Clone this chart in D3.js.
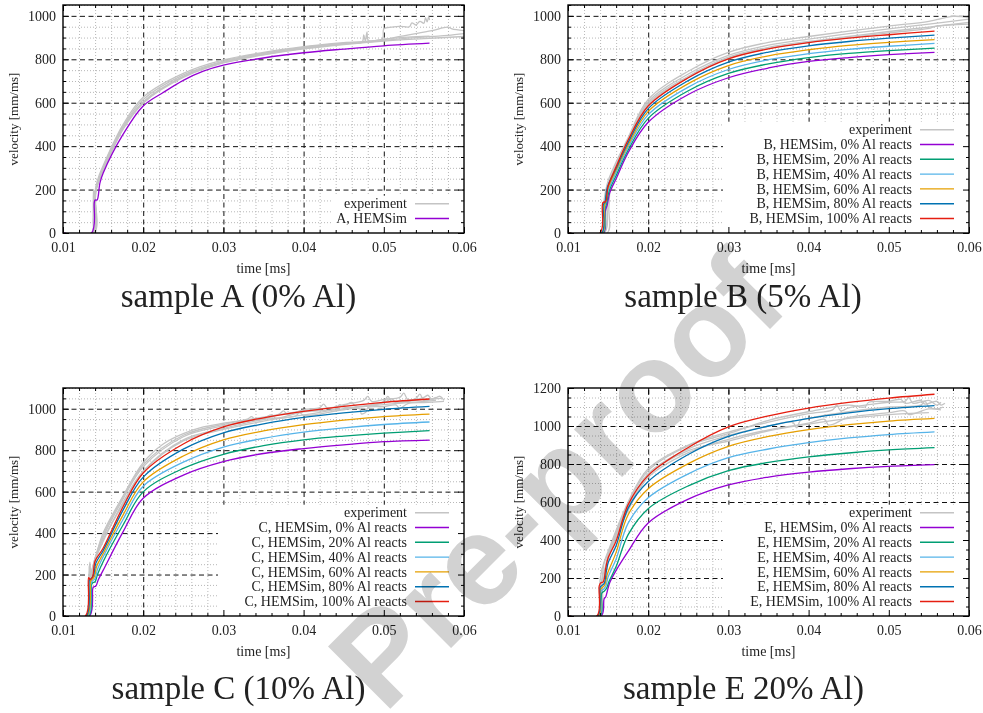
<!DOCTYPE html>
<html><head><meta charset="utf-8">
<script src="https://cdn.jsdelivr.net/npm/d3@7"></script>
<style>
body{margin:0;background:#fff}
svg{display:block}
text{font-family:"Liberation Serif","DejaVu Serif",serif;fill:#222}
</style>
</head><body>
<svg id="c" width="983" height="713"></svg>
<script>
// ---------------- data ----------------
const xTicks = [0.01,0.02,0.03,0.04,0.05,0.06];
const yTicksA = [0,200,400,600,800,1000];
const yTicksB = [0,200,400,600,800,1000];
const yTicksC = [0,200,400,600,800,1000];
const yTicksE = [0,200,400,600,800,1000,1200];
const titles = ["sample A (0% Al)","sample B (5% Al)","sample C (10% Al)","sample E 20% Al)"];
const reactPercents = [0,20,40,60,80,100];
const simColors = ["#9400d3","#009e73","#56b4e9","#e69f00","#0072b2","#e51e10"];
const expColor = "#c4c4c4";

// sample A
const simA = [[0.01,0],[0.01355,0],[0.0139,140],[0.0140,152],[0.01425,152],[0.0146,230],[0.015,275],[0.0175,455],[0.02,585],[0.0225,647],[0.025,703],[0.0275,745],[0.03,773],[0.035,806],[0.04,830],[0.045,847],[0.05,862],[0.0557,874]];
const expA1 = [[0.01,0],[0.0136,0],[0.01375,60],[0.0138,200],[0.0139,150],[0.0141,215],[0.0145,265],[0.015,310],[0.0175,500],[0.02,625],[0.025,735],[0.03,797],[0.035,832],[0.04,858],[0.045,877],[0.0498,893],[0.0500,940],[0.051,948],[0.052,952],[0.0532,950],[0.0535,968],[0.054,958],[0.0545,975],[0.055,966],[0.0552,992],[0.0554,972],[0.0556,998],[0.0557,980]];
const expA2 = [[0.01,0],[0.0137,0],[0.0139,170],[0.0142,210],[0.015,300],[0.0175,492],[0.02,615],[0.025,728],[0.03,792],[0.035,828],[0.04,855],[0.045,874],[0.05,890],[0.052,905],[0.054,918],[0.056,932],[0.058,948],[0.0585,940],[0.06,932]];
const expA3 = [[0.01,0],[0.0138,0],[0.01395,190],[0.0141,200],[0.015,290],[0.0175,485],[0.02,605],[0.025,720],[0.03,786],[0.035,822],[0.04,850],[0.045,870],[0.05,887],[0.053,897],[0.056,905],[0.058,910],[0.06,918]];
const expA4 = [[0.01,0],[0.0138,0],[0.0140,180],[0.0143,230],[0.015,295],[0.0175,482],[0.02,600],[0.025,722],[0.03,788],[0.035,826],[0.04,853],[0.045,873],[0.0473,880],[0.0475,912],[0.0477,884],[0.0479,925],[0.0481,886],[0.05,893],[0.053,902],[0.0557,907]];
const expA5 = [[0.01,0],[0.0139,0],[0.01405,170],[0.0144,235],[0.015,285],[0.0175,478],[0.02,598],[0.025,716],[0.03,783],[0.035,820],[0.04,848],[0.045,868],[0.05,884],[0.055,895],[0.06,905]];

// sample B
const simB0 = [[0.01,0],[0.0144,0],[0.01465,100],[0.0149,130],[0.0152,185],[0.016,250],[0.0175,370],[0.02,510],[0.025,638],[0.03,715],[0.035,760],[0.04,790],[0.045,808],[0.05,821],[0.0557,832]];
const simB20 = [[0.01,0],[0.01435,0],[0.0146,110],[0.0148,135],[0.0151,190],[0.016,265],[0.0175,382],[0.02,528],[0.025,655],[0.03,735],[0.035,779],[0.04,808],[0.045,827],[0.05,840],[0.0557,851]];
const simB40 = [[0.01,0],[0.0143,0],[0.01455,115],[0.0147,138],[0.0150,195],[0.016,278],[0.0175,394],[0.02,545],[0.025,672],[0.03,753],[0.035,798],[0.04,826],[0.045,846],[0.05,860],[0.0557,873]];
const simB60 = [[0.01,0],[0.01425,0],[0.0145,120],[0.01465,140],[0.0149,200],[0.016,290],[0.0175,405],[0.02,560],[0.025,688],[0.03,771],[0.035,816],[0.04,844],[0.045,864],[0.05,878],[0.0557,891]];
const simB80 = [[0.01,0],[0.0142,0],[0.0144,130],[0.0146,142],[0.0149,210],[0.016,298],[0.0175,417],[0.02,573],[0.025,702],[0.03,787],[0.035,833],[0.04,862],[0.045,882],[0.05,897],[0.0557,911]];
const simB100 = [[0.01,0],[0.0140,0],[0.01435,140],[0.0147,145],[0.0150,215],[0.016,305],[0.0175,428],[0.02,585],[0.025,715],[0.03,802],[0.035,848],[0.04,877],[0.045,897],[0.05,913],[0.0557,930]];
const expB1 = [[0.01,0],[0.0142,0],[0.0145,150],[0.015,240],[0.0175,440],[0.02,615],[0.025,745],[0.03,832],[0.035,878],[0.04,905],[0.045,930],[0.05,953],[0.055,975],[0.058,998],[0.06,992]];
const expB2 = [[0.01,0],[0.0143,0],[0.0147,150],[0.015,225],[0.0175,430],[0.02,605],[0.025,732],[0.03,818],[0.035,865],[0.04,893],[0.045,918],[0.05,940],[0.055,962],[0.06,985]];
const expB3 = [[0.01,0],[0.0145,0],[0.0149,140],[0.0152,230],[0.0175,420],[0.02,598],[0.025,722],[0.03,810],[0.035,855],[0.04,882],[0.045,905],[0.05,928],[0.055,948],[0.06,970]];
const expB4 = [[0.01,0],[0.0149,0],[0.0151,120],[0.0155,265],[0.0175,412],[0.02,592],[0.025,716],[0.03,805],[0.035,850],[0.04,878],[0.045,900],[0.05,922],[0.055,942],[0.0558,952],[0.06,962]];

// sample C
const simC0 = [[0.01,0],[0.0133,0],[0.0137,130],[0.0138,140],[0.0141,145],[0.0144,175],[0.015,220],[0.0175,407],[0.02,568],[0.025,680],[0.03,745],[0.035,784],[0.04,808],[0.045,826],[0.05,841],[0.0557,849]];
const simC20 = [[0.01,0],[0.0132,0],[0.01355,150],[0.0137,160],[0.0140,165],[0.0143,200],[0.015,262],[0.0175,440],[0.02,599],[0.025,712],[0.03,780],[0.035,822],[0.04,850],[0.045,868],[0.05,882],[0.0557,894]];
const simC40 = [[0.01,0],[0.0131,0],[0.0135,160],[0.0137,170],[0.0140,180],[0.0143,225],[0.015,285],[0.0175,467],[0.02,626],[0.025,742],[0.03,815],[0.035,857],[0.04,887],[0.045,908],[0.05,924],[0.0557,936]];
const simC60 = [[0.01,0],[0.0130,0],[0.01345,170],[0.0136,175],[0.0139,190],[0.0142,240],[0.015,300],[0.0175,488],[0.02,647],[0.025,772],[0.03,850],[0.035,893],[0.04,923],[0.045,945],[0.05,962],[0.0557,974]];
const simC80 = [[0.01,0],[0.0129,0],[0.0133,175],[0.0135,180],[0.0138,195],[0.0141,255],[0.015,315],[0.0175,512],[0.02,670],[0.025,805],[0.03,884],[0.035,927],[0.04,958],[0.045,980],[0.05,997],[0.0557,1011]];
const simC100 = [[0.01,0],[0.0128,0],[0.0132,185],[0.0134,175],[0.0137,190],[0.0140,265],[0.015,327],[0.0175,528],[0.02,690],[0.025,830],[0.03,912],[0.035,956],[0.04,987],[0.045,1011],[0.05,1031],[0.0557,1047]];
const expC1 = [[0.01,0],[0.0129,0],[0.0132,180],[0.01335,260],[0.0135,200],[0.0138,230],[0.0142,300],[0.015,400],[0.0175,580],[0.02,740],[0.0225,830],[0.025,880],[0.0275,912],[0.03,930],[0.033,950],[0.0335,962],[0.034,948],[0.037,975],[0.0375,990],[0.038,972],[0.04,995],[0.042,1005],[0.0425,1022],[0.043,1003],[0.045,1020],[0.0475,1040],[0.048,1060],[0.0485,1035],[0.05,1045],[0.052,1055],[0.0525,1075],[0.053,1045],[0.055,1055],[0.0555,1065],[0.056,1045],[0.057,1060],[0.0575,1040]];
const expC2 = [[0.01,0],[0.0130,0],[0.0134,190],[0.0140,270],[0.015,360],[0.0175,550],[0.02,700],[0.025,850],[0.03,905],[0.035,948],[0.039,965],[0.0395,982],[0.04,968],[0.045,995],[0.047,1000],[0.0472,975],[0.0478,985],[0.048,1005],[0.05,1010],[0.0515,1018],[0.052,1002],[0.053,1025],[0.055,1030],[0.0575,1035]];
const expC3 = [[0.01,0],[0.0131,0],[0.0135,200],[0.0141,290],[0.015,380],[0.0175,565],[0.02,720],[0.025,865],[0.03,918],[0.035,955],[0.036,970],[0.0365,955],[0.04,985],[0.044,1000],[0.0445,1020],[0.045,1008],[0.05,1030],[0.051,1048],[0.0515,1030],[0.054,1050],[0.0545,1070],[0.055,1040],[0.0565,1055]];
const expC4 = [[0.01,0],[0.0130,0],[0.0133,240],[0.0134,170],[0.0140,280],[0.015,390],[0.0175,575],[0.02,730],[0.025,872],[0.03,925],[0.035,960],[0.04,990],[0.045,1015],[0.046,1030],[0.0465,1012],[0.05,1035],[0.0505,1060],[0.051,1035],[0.055,1045],[0.0572,1050]];
const expC5 = [[0.01,0],[0.0132,0],[0.0136,210],[0.0142,300],[0.015,370],[0.0175,540],[0.02,695],[0.025,845],[0.03,900],[0.035,940],[0.04,970],[0.045,1000],[0.05,1020],[0.055,1035],[0.0565,1040]];

// sample E
const simE0 = [[0.01,0],[0.01415,0],[0.0145,90],[0.0147,100],[0.0149,130],[0.0152,175],[0.016,240],[0.0175,340],[0.02,490],[0.025,615],[0.03,690],[0.035,731],[0.04,757],[0.045,775],[0.05,788],[0.0557,797]];
const simE20 = [[0.01,0],[0.0140,0],[0.0142,120],[0.0145,130],[0.0148,145],[0.0151,180],[0.016,260],[0.0175,428],[0.02,565],[0.025,685],[0.03,765],[0.035,808],[0.04,837],[0.045,858],[0.05,874],[0.0557,886]];
const simE40 = [[0.01,0],[0.0139,0],[0.0141,130],[0.0144,140],[0.0147,155],[0.015,205],[0.016,300],[0.0175,489],[0.02,622],[0.025,748],[0.03,833],[0.035,879],[0.04,912],[0.045,937],[0.05,955],[0.0557,969]];
const simE60 = [[0.01,0],[0.0138,0],[0.01405,140],[0.0143,150],[0.0146,165],[0.0149,220],[0.016,335],[0.0175,533],[0.02,670],[0.025,802],[0.03,893],[0.035,945],[0.04,981],[0.045,1007],[0.05,1026],[0.0557,1040]];
const simE80 = [[0.01,0],[0.0137,0],[0.0140,150],[0.0142,160],[0.0145,170],[0.0148,240],[0.015,279],[0.016,370],[0.0175,568],[0.02,708],[0.025,850],[0.03,945],[0.035,1000],[0.04,1040],[0.045,1069],[0.05,1091],[0.0557,1107]];
const simE100 = [[0.01,0],[0.0136,0],[0.0139,160],[0.0141,175],[0.0144,180],[0.0147,250],[0.015,305],[0.016,395],[0.0175,586],[0.02,740],[0.025,887],[0.03,995],[0.035,1053],[0.04,1094],[0.045,1124],[0.05,1147],[0.0557,1167]];
const expE1 = [[0.01,0],[0.0137,0],[0.0140,150],[0.0142,180],[0.0145,280],[0.015,340],[0.0175,600],[0.02,775],[0.025,900],[0.03,968],[0.035,1020],[0.04,1065],[0.043,1085],[0.0435,1110],[0.044,1080],[0.045,1095],[0.048,1115],[0.05,1125],[0.052,1130],[0.0525,1150],[0.053,1120],[0.055,1135],[0.056,1110],[0.0565,1125]];
const expE2 = [[0.01,0],[0.0138,0],[0.0141,170],[0.0146,250],[0.015,320],[0.0175,575],[0.02,750],[0.025,880],[0.03,950],[0.035,1000],[0.038,1020],[0.0385,990],[0.039,1030],[0.04,1040],[0.045,1075],[0.05,1100],[0.054,1110],[0.0545,1130],[0.055,1100],[0.056,1090],[0.0568,1100]];
const expE3 = [[0.01,0],[0.0139,0],[0.0142,160],[0.0147,240],[0.015,300],[0.0175,555],[0.02,730],[0.025,860],[0.03,930],[0.035,980],[0.04,1015],[0.042,1035],[0.0425,1005],[0.045,1045],[0.05,1070],[0.052,1080],[0.0525,1060],[0.055,1090],[0.0565,1085]];
const expE4 = [[0.01,0],[0.0140,0],[0.0143,180],[0.0148,250],[0.015,310],[0.0175,565],[0.02,740],[0.025,870],[0.03,920],[0.035,975],[0.04,1010],[0.045,1040],[0.05,1060],[0.055,1070]];
const expE5 = [[0.01,0],[0.0138,0],[0.0140,190],[0.0144,270],[0.015,330],[0.0175,590],[0.02,765],[0.025,895],[0.03,960],[0.035,1030],[0.04,1075],[0.045,1110],[0.047,1100],[0.0475,1125],[0.05,1130],[0.0515,1140],[0.052,1120],[0.054,1135],[0.0545,1115],[0.056,1130],[0.0565,1110],[0.057,1120]];

// ---------------- layout ----------------
const panels = [
  {id:"A", x0:63,  x1:464, y0:5,   y1:233, ymax:1050, yTicks:yTicksA, title:titles[0], tx:238.5, ty:307,
   sims:[simA], simCols:[simColors[0]], exps:[expA1,expA2,expA3,expA4,expA5],
   labels:["experiment","A, HEMSim"], boxLeft:333},
  {id:"B", x0:568, x1:969, y0:5,   y1:233, ymax:1050, yTicks:yTicksB, title:titles[1], tx:743, ty:307,
   sims:[simB0,simB20,simB40,simB60,simB80,simB100], simCols:simColors, exps:[expB1,expB2,expB3,expB4],
   labels:["experiment"].concat(reactPercents.map(p=>`B, HEMSim, ${p}% Al reacts`)), boxLeft:723},
  {id:"C", x0:63,  x1:464, y0:388, y1:616, ymax:1100, yTicks:yTicksC, title:titles[2], tx:238.5, ty:699,
   sims:[simC0,simC20,simC40,simC60,simC80,simC100], simCols:simColors, exps:[expC1,expC2,expC3,expC4,expC5],
   labels:["experiment"].concat(reactPercents.map(p=>`C, HEMSim, ${p}% Al reacts`)), boxLeft:218},
  {id:"E", x0:568, x1:969, y0:388, y1:616, ymax:1200, yTicks:yTicksE, title:titles[3], tx:743.5, ty:699,
   sims:[simE0,simE20,simE40,simE60,simE80,simE100], simCols:simColors, exps:[expE1,expE2,expE3,expE4,expE5],
   labels:["experiment"].concat(reactPercents.map(p=>`E, HEMSim, ${p}% Al reacts`)), boxLeft:723}
];

const svg = d3.select("#c");
svg.append("rect").attr("width",983).attr("height",713).attr("fill","#fff");
const defs = svg.append("defs");
const FS = 14;

panels.forEach((p,pi)=>{
  const g = svg.append("g");
  const x = d3.scaleLinear().domain([0.01,0.06]).range([p.x0,p.x1]);
  const y = d3.scaleLinear().domain([0,p.ymax]).range([p.y1,p.y0]);
  const W = p.x1-p.x0, H = p.y1-p.y0;
  defs.append("clipPath").attr("id","clip"+pi).append("rect")
    .attr("x",p.x0).attr("y",p.y0).attr("width",W).attr("height",H);

  const xMinor = x.ticks(20).filter(v=>!xTicks.some(t=>Math.abs(t-v)<1e-9));
  const yMinor = d3.range(0,p.ymax+1,50).filter(v=>v%200!==0);
  const xMajorIn = xTicks.slice(1,-1);
  const yMajorIn = p.yTicks.filter(v=>v>0 && v<p.ymax);

  const grid = g.append("g").attr("clip-path",`url(#clip${pi})`);
  grid.append("g").call(d3.axisBottom(x).tickValues(xMinor).tickSize(-H).tickFormat(""))
    .attr("transform",`translate(0,${p.y1})`)
    .call(a=>a.select(".domain").remove())
    .call(a=>a.selectAll("line").attr("stroke","#b0b0b0").attr("stroke-width",0.9).attr("stroke-dasharray","1,2"));
  grid.append("g").call(d3.axisLeft(y).tickValues(yMinor).tickSize(-W).tickFormat(""))
    .attr("transform",`translate(${p.x0},0)`)
    .call(a=>a.select(".domain").remove())
    .call(a=>a.selectAll("line").attr("stroke","#b0b0b0").attr("stroke-width",0.9).attr("stroke-dasharray","1,2"));
  grid.append("g").call(d3.axisBottom(x).tickValues(xMajorIn).tickSize(-H).tickFormat(""))
    .attr("transform",`translate(0,${p.y1})`)
    .call(a=>a.select(".domain").remove())
    .call(a=>a.selectAll("line").attr("stroke","#111").attr("stroke-width",1).attr("stroke-dasharray","5,3.5"));
  grid.append("g").call(d3.axisLeft(y).tickValues(yMajorIn).tickSize(-W).tickFormat(""))
    .attr("transform",`translate(${p.x0},0)`)
    .call(a=>a.select(".domain").remove())
    .call(a=>a.selectAll("line").attr("stroke","#111").attr("stroke-width",1).attr("stroke-dasharray","5,3.5"));

  const n = p.labels.length;
  const cy = i => p.y1 - 14.5 - (n-1-i)*14.8;
  g.append("rect").attr("x",p.boxLeft).attr("y",cy(0)-8).attr("width",p.x1-p.boxLeft-1).attr("height",p.y1-(cy(0)-8)-1).attr("fill","#fff");

  const line = d3.line().x(d=>x(d[0])).y(d=>y(d[1])).curve(d3.curveCatmullRom.alpha(0.5));
  const cg = g.append("g").attr("clip-path",`url(#clip${pi})`);
  p.exps.forEach(e=>cg.append("path").attr("d",line(e)).attr("fill","none").attr("stroke",expColor).attr("stroke-width",1.3));
  p.sims.forEach((s,i)=>cg.append("path").attr("d",line(s)).attr("fill","none").attr("stroke",p.simCols[i]).attr("stroke-width",1.3));

  const cols = [expColor].concat(p.simCols);
  p.labels.forEach((lab,i)=>{
    g.append("text").attr("x",p.x1-57).attr("y",cy(i)+4.6).attr("text-anchor","end").attr("font-size",FS).text(lab);
    g.append("line").attr("x1",p.x1-49).attr("x2",p.x1-15).attr("y1",cy(i)).attr("y2",cy(i))
      .attr("stroke",cols[i]).attr("stroke-width",i===0?1.6:1.4);
  });

  const styleAxis = a=>{a.select(".domain").remove(); a.selectAll("line").attr("stroke","#000").attr("stroke-width",1); a.selectAll("text").attr("font-size",FS).attr("fill","#222").attr("font-family","Liberation Serif, serif");};
  g.append("g").attr("transform",`translate(0,${p.y1})`)
    .call(d3.axisBottom(x).tickValues(xTicks).tickSize(-6).tickPadding(9).tickFormat(d3.format(".2f"))).call(styleAxis);
  g.append("g").attr("transform",`translate(0,${p.y1})`)
    .call(d3.axisBottom(x).tickValues(xMinor).tickSize(-3).tickFormat("")).call(styleAxis);
  g.append("g").attr("transform",`translate(0,${p.y0})`)
    .call(d3.axisTop(x).tickValues(xTicks).tickSize(-6).tickFormat("")).call(styleAxis);
  g.append("g").attr("transform",`translate(0,${p.y0})`)
    .call(d3.axisTop(x).tickValues(xMinor).tickSize(-3).tickFormat("")).call(styleAxis);
  g.append("g").attr("transform",`translate(${p.x0},0)`)
    .call(d3.axisLeft(y).tickValues(p.yTicks).tickSize(-6).tickPadding(7).tickFormat(d3.format("d"))).call(styleAxis);
  g.append("g").attr("transform",`translate(${p.x0},0)`)
    .call(d3.axisLeft(y).tickValues(yMinor).tickSize(-3).tickFormat("")).call(styleAxis);
  g.append("g").attr("transform",`translate(${p.x1},0)`)
    .call(d3.axisRight(y).tickValues(p.yTicks).tickSize(-6).tickFormat("")).call(styleAxis);
  g.append("g").attr("transform",`translate(${p.x1},0)`)
    .call(d3.axisRight(y).tickValues(yMinor).tickSize(-3).tickFormat("")).call(styleAxis);

  g.append("rect").attr("x",p.x0).attr("y",p.y0).attr("width",W).attr("height",H)
    .attr("fill","none").attr("stroke","#000").attr("stroke-width",1.4);

  g.append("text").attr("x",(p.x0+p.x1)/2).attr("y",p.y1+40).attr("text-anchor","middle").attr("font-size",FS).text("time [ms]");
  g.append("text").attr("transform",`translate(${p.x0-45},${(p.y0+p.y1)/2}) rotate(-90)`).attr("text-anchor","middle").attr("font-size",FS-1).text("velocity [mm/ms]");

  g.append("text").attr("x",p.tx).attr("y",p.ty).attr("text-anchor","middle").attr("font-size",33).text(p.title);
});

// watermark
svg.append("text").attr("x",588).attr("y",511)
  .attr("transform","rotate(-45,588,511)")
  .attr("text-anchor","middle")
  .style("font-family","'Liberation Sans', Arial, sans-serif")
  .style("font-weight","bold")
  .attr("font-size",128)
  .style("fill","#d2d2d2")
  .style("mix-blend-mode","multiply")
  .text("Pre-proof");
</script>
</body></html>
